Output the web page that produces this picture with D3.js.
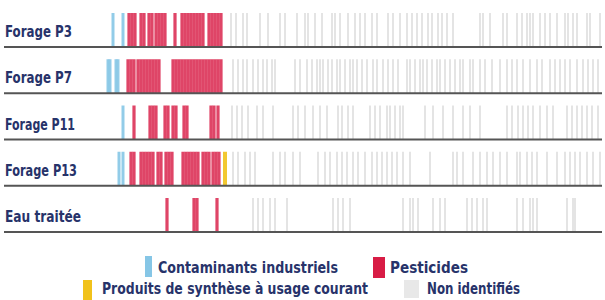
<!DOCTYPE html>
<html lang="fr">
<head>
    <meta charset="utf-8" />
    <title>Empreintes des forages</title>
    <script src="https://d3js.org/d3.v7.min.js"></script>
    <style>
        body { margin: 0; background: #fff; }
        text { font-family: "Liberation Sans Narrow", "DejaVu Sans Condensed", sans-serif; font-stretch: condensed; font-weight: bold; fill: #27336a; }
    </style>
</head>
<body>
<script>
    // rows of the chart
    var rows = ["Forage P3", "Forage P7", "Forage P11", "Forage P13", "Eau traitée"];

    // position of each detected compound (0-250), one array per row and family
    var industriels = [
        [4, 9],
        [1.5, 2.5, 5.5, 6.5],
        [9],
        [7, 9],
        []
    ];
    var pesticides = [
        [12, 13.5, 15, 18, 19.5, 22, 23.5, 25.5, 27, 28.5, 30, 35, 38.5, 40, 41.5, 43, 44.5, 46, 47.5, 49, 52, 53.5, 55, 56.5, 58],
        [11.5, 13, 14.5, 16.5, 18, 19.5, 21, 22.5, 24, 25.5, 27, 34, 35.5, 37, 38.5, 40, 41.5, 43, 44.5, 46, 47.5, 49, 50.5, 52, 53.5, 55, 56.5, 58],
        [14.5, 22.5, 24, 25.5, 30, 31.5, 34, 35.5, 39.5, 41, 53, 54.5, 56.5],
        [13, 14.5, 18, 19.5, 21, 22.5, 24, 26.5, 28, 30.5, 32, 33.5, 39, 40.5, 42, 43.5, 45, 46.5, 49, 50.5, 52, 54, 55.5, 57],
        [31, 44.5, 46, 56]
    ];
    var synthese = [
        [],
        [],
        [],
        [60],
        []
    ];
    var nonIdentifies = [
        [63, 65.5, 69, 71, 77.5, 81.5, 87.5, 90, 96, 100, 101.5, 105, 108.5, 113.5, 115, 117.5, 121.5, 125, 127.5, 130, 133.5, 136, 141.5, 144, 147.5, 151, 153.5, 156, 158.5, 161.5, 163.5, 166.5, 168.5, 171, 174, 187.5, 189, 192.5, 199, 201, 206, 208.5, 211, 212.5, 214, 217.5, 220, 222.5, 226, 230, 231.5, 234, 236, 241, 242.5, 247.5],
        [64, 66.5, 69, 71, 74, 76.5, 79, 81, 83.5, 85, 95, 97.5, 101, 103.5, 106, 107.5, 109, 111.5, 113.5, 116, 117.5, 120, 122.5, 124, 126, 128.5, 131, 134, 136, 139, 141.5, 144, 146.5, 151, 152.5, 155, 157.5, 159, 161, 163.5, 166, 167.5, 170, 172.5, 175, 177.5, 179, 182.5, 184, 187.5, 190, 193.5, 197.5, 201, 203.5, 206, 209, 212.5, 216, 218.5, 222.5, 225, 227.5, 230, 232.5, 236, 239, 241.5, 244, 246.5],
        [63.5, 66, 68.5, 71.5, 76, 79, 84, 94, 96.5, 100, 104, 107.5, 111, 116.5, 118.5, 121.5, 124, 132.5, 135, 137.5, 141, 142.5, 145, 147.5, 149, 160, 164, 169, 174, 179, 182.5, 187.5, 201, 203.5, 206.5, 209, 211.5, 214, 217.5, 221, 224, 231, 233.5, 236, 238.5, 241, 243.5, 246.5],
        [64, 66.5, 70, 72.5, 75, 84, 87.5, 90, 94, 97.5, 106.5, 110, 112.5, 116, 118.5, 121, 124, 126.5, 130, 133.5, 136, 138.5, 141, 143.5, 146, 149, 152.5, 162.5, 174, 176, 179, 184, 187.5, 191, 194, 197.5, 201, 206, 207.5, 211, 213.5, 216, 221, 226, 230, 232.5, 235, 237.5, 241, 244, 247.5],
        [74, 76.5, 79, 82.5, 85, 91, 114, 116.5, 119, 122.5, 149, 152.5, 154, 156.5, 164, 167.5, 170, 181, 183.5, 186, 189, 191, 206, 209, 212.5, 214, 216, 231, 234, 235]
    ];

    var familles = ["Contaminants industriels", "Pesticides", "Produits de synthèse à usage courant", "Non identifiés"];
    var couleurs = ["#86c6e6", "#d81c45", "#f1c21b", "#c4c4c4"];
    var series = [industriels, pesticides, synthese, nonIdentifies];

    var w = 605;
    var h = 300;

    var svg = d3.select("body")
        .append("svg")
        .attr("width", w)
        .attr("height", h);

    var xScale = d3.scaleLinear()
        .domain([0, 250])
        .range([105, 605]);

    var yScale = d3.scalePoint()
        .domain(rows)
        .range([47, 232]);

    var markH = 34;
    var widths = [3, 3.2, 4, 1.5];
    var opac = [0.9, 0.82, 0.9, 0.6];

    // build flat list of marks
    var marks = [];
    series.forEach(function (s, f) {
        s.forEach(function (vals, r) {
            vals.forEach(function (v) {
                marks.push({ row: rows[r], x: v, f: f });
            });
        });
    });
    // grey first so colours sit on top
    marks.sort(function (a, b) { return (b.f === 3) - (a.f === 3); });

    svg.selectAll("rect.mark")
        .data(marks)
        .enter()
        .append("rect")
        .attr("class", "mark")
        .attr("x", function (d) { return xScale(d.x) - widths[d.f] / 2; })
        .attr("y", function (d) { return yScale(d.row) - markH; })
        .attr("width", function (d) { return widths[d.f]; })
        .attr("height", markH)
        .attr("fill", function (d) { return couleurs[d.f]; })
        .attr("opacity", function (d) { return opac[d.f]; });

    svg.selectAll("line.base")
        .data(rows)
        .enter()
        .append("line")
        .attr("class", "base")
        .attr("x1", 4)
        .attr("x2", 602)
        .attr("y1", function (d) { return yScale(d); })
        .attr("y2", function (d) { return yScale(d); })
        .attr("stroke", "#555")
        .attr("stroke-width", 2);

    var labelW = [67, 67, 70, 72, 76];
    svg.selectAll("text.row")
        .data(rows)
        .enter()
        .append("text")
        .attr("class", "row")
        .attr("x", 5)
        .attr("y", function (d) { return yScale(d) - 10; })
        .attr("font-size", "15px")
        .attr("textLength", function (d, i) { return labelW[i]; })
        .attr("lengthAdjust", "spacingAndGlyphs")
        .text(function (d) { return d; });

    // legend
    var legend = [
        { sx: 145, sy: 256, sw: 7, sh: 21, tx: 158, ty: 273, tw: 180 },
        { sx: 373, sy: 257, sw: 12, sh: 21, tx: 390, ty: 273, tw: 78 },
        { sx: 83, sy: 280, sw: 9, sh: 20, tx: 102, ty: 294, tw: 266 },
        { sx: 404, sy: 280, sw: 15, sh: 18, tx: 427, ty: 294, tw: 93 }
    ];
    var legFill = ["#86c6e6", "#d81c45", "#f1c21b", "#e8e8e8"];

    svg.selectAll("rect.leg")
        .data(legend)
        .enter()
        .append("rect")
        .attr("class", "leg")
        .attr("x", function (d) { return d.sx; })
        .attr("y", function (d) { return d.sy; })
        .attr("width", function (d) { return d.sw; })
        .attr("height", function (d) { return d.sh; })
        .attr("fill", function (d, i) { return legFill[i]; });

    svg.selectAll("text.leg")
        .data(legend)
        .enter()
        .append("text")
        .attr("class", "leg")
        .attr("x", function (d) { return d.tx; })
        .attr("y", function (d) { return d.ty; })
        .attr("font-size", "15px")
        .attr("textLength", function (d) { return d.tw; })
        .attr("lengthAdjust", "spacingAndGlyphs")
        .text(function (d, i) { return familles[i]; });
</script>
</body>
</html>
